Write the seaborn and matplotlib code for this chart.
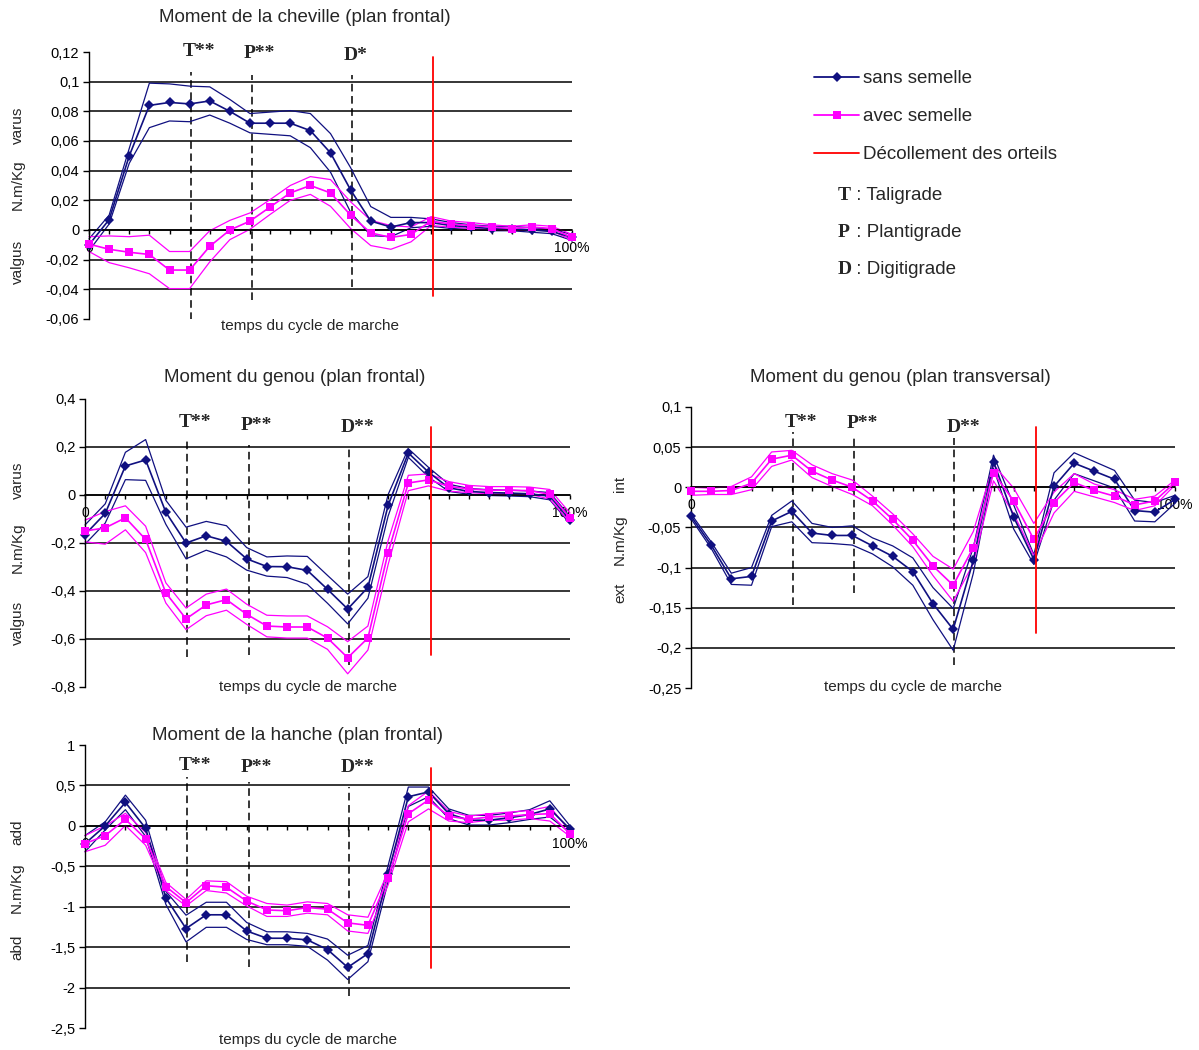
import numpy as np
import pandas as pd
import matplotlib
matplotlib.use('Agg')
import matplotlib.pyplot as plt
from matplotlib.lines import Line2D
import seaborn as sns

# 25 samples over the gait cycle (0 -> 100%)
cycle_idx = list(range(25))
x_ticklabels = ['0'] + [''] * 23 + ['100%']
groups = ['sans semelle', 'avec semelle']

# Moment de la cheville (plan frontal)
ankle_sans = [-0.010, 0.007, 0.050, 0.084, 0.086, 0.085, 0.087, 0.080, 0.072, 0.072, 0.072, 0.067, 0.052,
              0.027, 0.006, 0.002, 0.005, 0.005, 0.003, 0.002, 0.001, 0.001, 0.000, -0.001, -0.005]
ankle_sans_sd = [0.004, 0.003, 0.005, 0.015, 0.0125, 0.012, 0.0095, 0.008, 0.0065, 0.0075, 0.0085, 0.0115, 0.013,
                 0.015, 0.0098, 0.0065, 0.0035, 0.0025, 0.002, 0.0015, 0.0015, 0.0015, 0.0015, 0.0015, 0.002]
ankle_avec = [-0.0095, -0.013, -0.015, -0.0165, -0.027, -0.027, -0.011, 0.000, 0.006, 0.0155, 0.025, 0.030, 0.025,
              0.010, -0.002, -0.005, -0.003, 0.006, 0.004, 0.003, 0.002, 0.001, 0.002, 0.001, -0.005]
ankle_avec_sd = [0.005, 0.009, 0.0105, 0.013, 0.0125, 0.0125, 0.0105, 0.0065, 0.0055, 0.005, 0.005, 0.006, 0.009,
                 0.009, 0.0085, 0.008, 0.005, 0.003, 0.002, 0.002, 0.0015, 0.0015, 0.0015, 0.0015, 0.002]

# Moment du genou (plan frontal)
knee_fr_sans = [-0.165, -0.077, 0.121, 0.146, -0.072, -0.200, -0.170, -0.193, -0.266, -0.298, -0.299, -0.314, -0.393,
                -0.475, -0.385, -0.043, 0.175, 0.095, 0.030, 0.015, 0.010, 0.008, 0.005, -0.005, -0.105]
knee_fr_sans_sd = [0.04, 0.04, 0.057, 0.085, 0.05, 0.066, 0.06, 0.065, 0.047, 0.04, 0.045, 0.058, 0.058,
                   0.062, 0.045, 0.045, 0.018, 0.02, 0.015, 0.012, 0.012, 0.012, 0.012, 0.015, 0.015]
knee_fr_avec = [-0.150, -0.137, -0.095, -0.185, -0.408, -0.516, -0.458, -0.436, -0.497, -0.546, -0.550, -0.550, -0.596,
                -0.678, -0.596, -0.240, 0.050, 0.063, 0.036, 0.025, 0.020, 0.020, 0.018, 0.003, -0.095]
knee_fr_avec_sd = [0.045, 0.068, 0.05, 0.055, 0.042, 0.045, 0.045, 0.044, 0.042, 0.045, 0.046, 0.046, 0.047,
                   0.067, 0.05, 0.05, 0.032, 0.025, 0.02, 0.015, 0.015, 0.015, 0.015, 0.02, 0.02]

# Moment du genou (plan transversal)
knee_tr_sans = [-0.036, -0.072, -0.114, -0.111, -0.042, -0.030, -0.057, -0.060, -0.060, -0.073, -0.086, -0.105, -0.145,
                -0.177, -0.091, 0.032, -0.037, -0.090, 0.001, 0.030, 0.020, 0.010, -0.029, -0.031, -0.015]
knee_tr_sans_sd = [0.003, 0.004, 0.007, 0.011, 0.007, 0.013, 0.012, 0.010, 0.012, 0.010, 0.013, 0.017, 0.020,
                   0.026, 0.016, 0.008, 0.015, 0.006, 0.017, 0.013, 0.012, 0.011, 0.013, 0.012, 0.005]
knee_tr_avec = [-0.005, -0.005, -0.004, 0.005, 0.035, 0.040, 0.020, 0.009, 0.000, -0.017, -0.040, -0.066, -0.098,
                -0.122, -0.075, 0.018, -0.017, -0.065, -0.019, 0.006, -0.004, -0.011, -0.022, -0.017, 0.006]
knee_tr_avec_sd = [0.005, 0.004, 0.005, 0.008, 0.009, 0.006, 0.008, 0.008, 0.009, 0.006, 0.007, 0.008, 0.012,
                   0.020, 0.020, 0.010, 0.016, 0.020, 0.013, 0.011, 0.008, 0.008, 0.007, 0.006, 0.003]

# Moment de la hanche (plan frontal)
hip_sans = [-0.22, 0.00, 0.29, -0.03, -0.89, -1.27, -1.10, -1.10, -1.30, -1.39, -1.39, -1.41, -1.53,
            -1.75, -1.58, -0.59, 0.36, 0.42, 0.15, 0.07, 0.07, 0.10, 0.14, 0.21, -0.04]
hip_sans_sd = [0.10, 0.05, 0.09, 0.10, 0.08, 0.165, 0.155, 0.155, 0.105, 0.08, 0.08, 0.08, 0.13,
               0.15, 0.10, 0.10, 0.12, 0.06, 0.06, 0.06, 0.06, 0.06, 0.06, 0.10, 0.04]
hip_avec = [-0.22, -0.12, 0.08, -0.16, -0.75, -0.95, -0.74, -0.76, -0.93, -1.04, -1.05, -1.01, -1.03,
            -1.20, -1.23, -0.65, 0.15, 0.32, 0.12, 0.08, 0.11, 0.12, 0.14, 0.15, -0.10]
hip_avec_sd = [0.10, 0.12, 0.075, 0.08, 0.05, 0.04, 0.06, 0.07, 0.06, 0.08, 0.07, 0.07, 0.07,
               0.10, 0.10, 0.08, 0.10, 0.11, 0.06, 0.04, 0.04, 0.05, 0.05, 0.09, 0.03]

# gait events (position on the cycle axis)
phase_x = [5.05, 8.1, 13.05]
toe_off_x = 17.1

W, H = 1199, 1050
navy = '#101080'
magenta = '#ff00ff'
pal = {'sans semelle': navy, 'avec semelle': magenta}

sns.set_style('white')
plt.rcParams['font.family'] = ['Liberation Sans', 'DejaVu Sans']

fig = plt.figure(figsize=(W / 100, H / 100), dpi=100)


def fx(px):
    return px / W


def fy(py):
    return 1 - py / H


def long_table(sans, sans_sd, avec, avec_sd):
    parts = []
    for grp, m, s in [('sans semelle', sans, sans_sd), ('avec semelle', avec, avec_sd)]:
        m = np.array(m)
        s = np.array(s)
        for kind, v in [('moy', m), ('haut', m + s), ('bas', m - s)]:
            parts.append(pd.DataFrame({'t': cycle_idx, 'val': v, 'groupe': grp, 'courbe': kind}))
    return pd.concat(parts, ignore_index=True)


panels = [
    dict(data=(ankle_sans, ankle_sans_sd, ankle_avec, ankle_avec_sd),
         box=(89, 52, 572, 319), ylim=(-0.06, 0.12),
         yticks=[0.12, 0.1, 0.08, 0.06, 0.04, 0.02, 0, -0.02, -0.04, -0.06],
         yticklabels=['0,12', '0,1', '0,08', '0,06', '0,04', '0,02', '0', '-0,02', '-0,04', '-0,06'],
         title='Moment de la cheville (plan frontal)', title_xy=(305, 18), xlabel_xy=(310, 326),
         ylab=[('varus', 125), ('N.m/Kg', 185), ('valgus', 262)], ylab_x=18,
         phases=['T**', 'P**', 'D*'], phase_top=[0.1065, 0.1045, 0.1045], phase_bot=[-0.061, -0.047, -0.0385],
         label_y=[52, 53, 55], red=(0.1166, -0.0445)),
    dict(data=(knee_fr_sans, knee_fr_sans_sd, knee_fr_avec, knee_fr_avec_sd),
         box=(85, 399, 570, 687), ylim=(-0.8, 0.4),
         yticks=[0.4, 0.2, 0, -0.2, -0.4, -0.6, -0.8],
         yticklabels=['0,4', '0,2', '0', '-0,2', '-0,4', '-0,6', '-0,8'],
         title='Moment du genou (plan frontal)', title_xy=(295, 378), xlabel_xy=(308, 687),
         ylab=[('varus', 480), ('N.m/Kg', 548), ('valgus', 623)], ylab_x=18,
         phases=['T**', 'P**', 'D**'], phase_top=[0.229, 0.21, 0.2], phase_bot=[-0.675, -0.667, -0.71],
         label_y=[423, 425, 427], red=(0.283, -0.667)),
    dict(data=(knee_tr_sans, knee_tr_sans_sd, knee_tr_avec, knee_tr_avec_sd),
         box=(691, 407, 1175, 688), ylim=(-0.25, 0.1),
         yticks=[0.1, 0.05, 0, -0.05, -0.1, -0.15, -0.2, -0.25],
         yticklabels=['0,1', '0,05', '0', '-0,05', '-0,1', '-0,15', '-0,2', '-0,25'],
         title='Moment du genou (plan transversal)', title_xy=(900, 377), xlabel_xy=(913, 687),
         ylab=[('int', 484), ('N.m/Kg', 540), ('ext', 593)], ylab_x=620,
         phases=['T**', 'P**', 'D**'], phase_top=[0.069, 0.063, 0.061], phase_bot=[-0.147, -0.132, -0.221],
         label_y=[422, 424, 427], red=(0.075, -0.181)),
    dict(data=(hip_sans, hip_sans_sd, hip_avec, hip_avec_sd),
         box=(85, 745, 570, 1028), ylim=(-2.5, 1),
         yticks=[1, 0.5, 0, -0.5, -1, -1.5, -2, -2.5],
         yticklabels=['1', '0,5', '0', '-0,5', '-1', '-1,5', '-2', '-2,5'],
         title='Moment de la hanche (plan frontal)', title_xy=(297, 736), xlabel_xy=(308, 1040),
         ylab=[('add', 832), ('N.m/Kg', 888), ('abd', 947)], ylab_x=17,
         phases=['T**', 'P**', 'D**'], phase_top=[0.605, 0.54, 0.48], phase_bot=[-1.68, -1.74, -2.11],
         label_y=[765, 767, 767], red=(0.715, -1.76)),
]

for p in panels:
    x0, y0, x1, y1 = p['box']
    ax = fig.add_axes([fx(x0), fy(y1), (x1 - x0) / W, (y1 - y0) / H])
    ax.set_facecolor('none')
    df = long_table(*p['data'])

    # horizontal grid (interior ticks only)
    ax.hlines(p['yticks'][1:-1], 0, 24, color='black', lw=1.1, zorder=1)

    # dashed gait-event lines + labels
    for xp, lab, top, bot, ly in zip(phase_x, p['phases'], p['phase_top'], p['phase_bot'], p['label_y']):
        ax.plot([xp, xp], [bot, top], color='black', lw=1.1, ls=(0, (5, 3)), zorder=1)
        fig.text(fx(x0 + xp * (x1 - x0) / 24 - 8), fy(ly), lab, ha='left', va='center',
                 family='Liberation Serif', weight='bold', fontsize=14)
    ax.plot([toe_off_x, toe_off_x], [p['red'][1], p['red'][0]], color='red', lw=1.3, zorder=4)

    # +/- sd bounds then mean curves
    bands = df[df.courbe != 'moy']
    sns.lineplot(data=bands, x='t', y='val', hue='groupe', hue_order=groups, units='courbe',
                 estimator=None, palette=pal, lw=0.9, legend=False, ax=ax, clip_on=False, zorder=2)
    means = df[df.courbe == 'moy']
    sns.lineplot(data=means, x='t', y='val', hue='groupe', hue_order=groups, style='groupe',
                 markers={'sans semelle': 'D', 'avec semelle': 's'}, dashes=False, palette=pal,
                 lw=1.2, markersize=5.5, markeredgewidth=0, legend=False, ax=ax, clip_on=False, zorder=3)

    ax.set_xlim(0, 24)
    ax.set_ylim(*p['ylim'])
    ax.set_xticks(cycle_idx)
    ax.set_xticklabels(x_ticklabels)
    ax.set_yticks(p['yticks'])
    ax.set_yticklabels(p['yticklabels'])
    ax.set_xlabel('')
    ax.set_ylabel('')
    for side in ['top', 'right']:
        ax.spines[side].set_visible(False)
    ax.spines['bottom'].set_position(('data', 0))
    ax.spines['bottom'].set_linewidth(1.1)
    ax.spines['bottom'].set_color('black')
    ax.spines['left'].set_linewidth(1.0)
    ax.spines['left'].set_color('black')
    ax.tick_params(axis='x', direction='out', length=3, width=1, pad=5, labelsize=10, colors='black')
    ax.tick_params(axis='y', direction='out', length=4, width=1, pad=3, labelsize=10.5, colors='black')
    ax.tick_params(left=True, bottom=True)

    fig.text(fx(p['title_xy'][0]), fy(p['title_xy'][1]), p['title'], ha='center', va='center', fontsize=13.5)
    fig.text(fx(p['xlabel_xy'][0]), fy(p['xlabel_xy'][1]), 'temps du cycle de marche',
             ha='center', va='center', fontsize=11)
    for word, py in p['ylab']:
        fig.text(fx(p['ylab_x']), fy(py), word, rotation=90, ha='center', va='center', fontsize=11)

# legend
handles = [Line2D([], [], color=navy, marker='D', markersize=5.5, markeredgewidth=0, lw=1.3),
           Line2D([], [], color=magenta, marker='s', markersize=5.5, markeredgewidth=0, lw=1.3),
           Line2D([], [], color='red', lw=1.3)]
fig.legend(handles, ['sans semelle', 'avec semelle', 'Décollement des orteils'],
           loc='upper left', bbox_to_anchor=(fx(814), fy(70)), frameon=False, fontsize=13.5,
           handlelength=2.4, handletextpad=0.2, labelspacing=1.12, borderpad=0, borderaxespad=0)
for letter, word, py in [('T', ' : Taligrade', 195), ('P', ' : Plantigrade', 232), ('D', ' : Digitigrade', 270)]:
    fig.text(fx(838), fy(py), letter, ha='left', va='center', family='Liberation Serif',
             weight='bold', fontsize=14)
    fig.text(fx(851), fy(py), word, ha='left', va='center', fontsize=13.5)

fig.savefig('out.png', dpi=100)
